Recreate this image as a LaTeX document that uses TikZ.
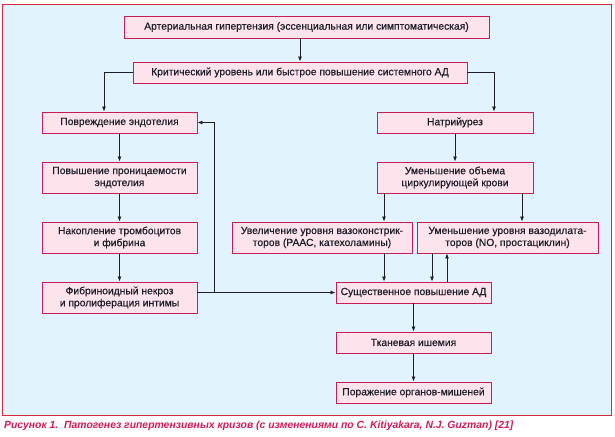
\documentclass[tikz,border=0pt]{standalone}
\usepackage{fontspec}
\setmainfont{Liberation Sans}[FakeBold=0.6]
\newfontfamily\capfont{Liberation Sans}
\usetikzlibrary{arrows.meta}
\definecolor{framered}{HTML}{D42A3C}
\definecolor{framefill}{HTML}{E1F3FC}
\definecolor{boxline}{HTML}{C41E55}
\definecolor{boxfill}{HTML}{FCE3EC}
\definecolor{captioncol}{HTML}{D01A5C}
\definecolor{ink}{HTML}{1E1E28}
\tikzset{
  box/.style={draw=boxline, fill=boxfill, line width=0.9pt, inner sep=0pt,
    align=center, text=ink, font=\fontsize{10.3}{12}\selectfont},
  arr/.style={draw=ink, line width=0.8pt, -{Latex[length=5pt,width=4pt]}},
  ln/.style={draw=ink, line width=0.8pt}
}
\begin{document}
\begin{tikzpicture}[x=1pt,y=-1pt]
\useasboundingbox (0,0) rectangle (615,436);
\draw[framered, fill=framefill, line width=1pt] (2,5) rectangle (611,415);
\node[box, minimum width=365pt, minimum height=22pt] (b1) at (306.5,27) {Артериальная гипертензия (эссенциальная или симптоматическая)};
\node[box, minimum width=334pt, minimum height=21pt] (b2) at (300,72.5) {Критический уровень или быстрое повышение системного АД};
\node[box, minimum width=155pt, minimum height=21pt] (b3) at (119.5,122.5) {Повреждение эндотелия};
\node[box, minimum width=156pt, minimum height=21pt] (b4) at (455,122.5) {Натрийурез};
\node[box, minimum width=155pt, minimum height=31pt] (b5) at (119.5,177.5) {Повышение проницаемости\\эндотелия};
\node[box, minimum width=156pt, minimum height=31pt] (b6) at (455,177.5) {Уменьшение объема\\циркулирующей крови};
\node[box, minimum width=155pt, minimum height=31pt] (b7) at (119.5,237.5) {Накопление тромбоцитов\\и фибрина};
\node[box, minimum width=180pt, minimum height=31pt] (b8) at (322,237.5) {Увеличение уровня вазоконстрик-\\торов (РААС, катехоламины)};
\node[box, minimum width=181pt, minimum height=31pt] (b9) at (507.5,237.5) {Уменьшение уровня вазодилата-\\торов (NO, простациклин)};
\node[box, minimum width=155pt, minimum height=31pt] (b10) at (119.5,297.5) {Фибриноидный некроз\\и пролиферация интимы};
\node[box, minimum width=155pt, minimum height=21pt] (b11) at (413.5,292.5) {Существенное повышение АД};
\node[box, minimum width=155pt, minimum height=21pt] (b12) at (413.5,342.5) {Тканевая ишемия};
\node[box, minimum width=155pt, minimum height=21pt] (b13) at (413.5,392.5) {Поражение органов-мишеней};
\node[anchor=west, inner sep=0pt, text=captioncol, font=\capfont\bfseries\itshape\fontsize{10.4}{12}\selectfont] (cap) at (4,426) {Рисунок 1.\ \ Патогенез гипертензивных кризов (с изменениями по C. Kitiyakara, N.J. Guzman) [21]};
% helper coordinates
\coordinate (xl) at (104,0);
\coordinate (xr) at (494,0);
\coordinate (xa) at (384,0);
\coordinate (xb) at (522,0);
\coordinate (xc) at (432,0);
\coordinate (xd) at (447,0);
\coordinate (fb) at (214,0);
% connectors
\draw[arr] (b1.south -| b2.north) -- (b2.north);
\draw[arr] (b2.west) -| (b3.north -| xl);
\draw[arr] (b2.east) -| (b4.north -| xr);
\draw[arr] (b3) -- (b5);
\draw[arr] (b5) -- (b7);
\draw[arr] (b7) -- (b10);
\draw[arr] (b10.east |- b11.west) -- (b11.west);
\draw[arr] (b11.west -| fb) |- (b3.east);
\draw[arr] (b4) -- (b6);
\draw[arr] (b6.south -| xa) -- (b8.north -| xa);
\draw[arr] (b6.south -| xb) -- (b9.north -| xb);
\draw[arr] (b8.south -| xa) -- (b11.north -| xa);
\draw[arr] (b9.south -| xc) -- (b11.north -| xc);
\draw[arr] (b11.north -| xd) -- (b9.south -| xd);
\draw[arr] (b11) -- (b12);
\draw[arr] (b12) -- (b13);
\end{tikzpicture}
\end{document}
